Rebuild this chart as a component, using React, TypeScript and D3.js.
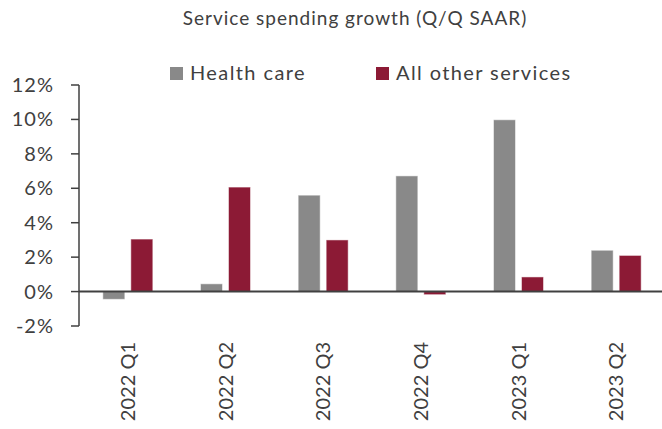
import React from "react";
import * as d3 from "d3";

const categories = ["2022 Q1", "2022 Q2", "2022 Q3", "2022 Q4", "2023 Q1", "2023 Q2"];
const healthCare = [-0.45, 0.45, 5.6, 6.72, 9.98, 2.4];
const allOther = [3.05, 6.07, 3.0, -0.18, 0.85, 2.1];
const yTicks = [-2, 0, 2, 4, 6, 8, 10, 12];
const seriesNames = ["Health care", "All other services"];
const colors = ["#898989", "#8C1A35"];

const W = 662;
const H = 429;
const FONT = "Lato, 'Open Sans', sans-serif";
const TEXT = "#404040";

export default function App() {
  const x = d3.scaleBand<string>().domain(categories).range([79, 665]);
  const y = d3.scaleLinear().domain([-2, 12]).range([326, 85]);
  const barW = 22;
  const gap = 6;
  const series = [healthCare, allOther];

  return (
    <svg width={W} height={H} style={{ position: "absolute", left: 0, top: 0, background: "#fff" }}>
      <text x={355} y={25} textAnchor="middle" fontFamily={FONT} fontWeight={400} fontSize={19} letterSpacing={1} fill={TEXT}>
        Service spending growth (Q/Q SAAR)
      </text>
      {/* legend */}
      <rect x={170} y={67} width={13} height={13} fill={colors[0]} />
      <text x={190} y={80} fontFamily={FONT} fontWeight={400} fontSize={20} letterSpacing={1.4} fill={TEXT}>{seriesNames[0]}</text>
      <rect x={376} y={67} width={13} height={13} fill={colors[1]} />
      <text x={396} y={80} fontFamily={FONT} fontWeight={400} fontSize={20} letterSpacing={1.4} fill={TEXT}>{seriesNames[1]}</text>

      {/* bars */}
      {series.map((vals, si) =>
        vals.map((v, i) => {
          const c = (x(categories[i]) as number) + x.bandwidth() / 2;
          const bx = si === 0 ? c - gap / 2 - barW : c + gap / 2;
          const y0 = y(0);
          const y1 = y(v);
          return (
            <rect
              key={`${si}-${i}`}
              x={bx}
              y={Math.min(y0, y1)}
              width={barW}
              height={Math.abs(y1 - y0)}
              fill={colors[si]}
              stroke="#ffffff"
              strokeOpacity={0.5}
              strokeWidth={1}
            />
          );
        })
      )}

      {/* y axis */}
      <line x1={79} x2={79} y1={y(12)} y2={y(-2)} stroke="#404040" strokeWidth={1.5} />
      {yTicks.map((t) => (
        <g key={t}>
          <line x1={71} x2={79} y1={y(t)} y2={y(t)} stroke="#404040" strokeWidth={1.5} />
          <text x={54} y={y(t) + 7} textAnchor="end" fontFamily={FONT} fontWeight={400} fontSize={20} letterSpacing={1} fill={TEXT}>
            {`${t}%`}
          </text>
        </g>
      ))}
      {/* zero line */}
      <line x1={79} x2={662} y1={y(0)} y2={y(0)} stroke="#404040" strokeWidth={2} />

      {/* x labels */}
      {categories.map((c) => {
        const cx = (x(c) as number) + x.bandwidth() / 2;
        return (
          <text
            key={c}
            transform={`translate(${cx + 7},${342}) rotate(-90)`}
            textAnchor="end"
            fontFamily={FONT}
            fontWeight={400}
            fontSize={20}
            fill={TEXT}
          >
            {c}
          </text>
        );
      })}
    </svg>
  );
}
